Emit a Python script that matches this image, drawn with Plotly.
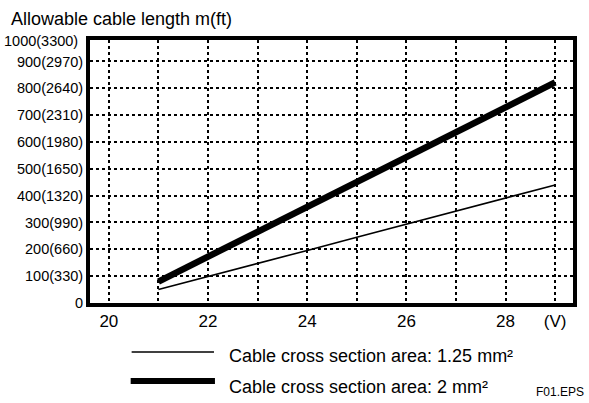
import plotly.graph_objects as go

# Supply voltage (V) and allowable cable length (m) for each cable cross section
voltage = [21, 22, 23, 24, 25, 26, 27, 28, 29]
length_125mm2 = [50, 98, 147, 196, 245, 294, 343, 391, 440]
length_2mm2 = [80, 172, 265, 358, 451, 545, 637, 730, 822]

x_ticks = [20, 22, 24, 26, 28, 29]
x_labels = ["20", "22", "24", "26", "28", "(V)"]
y_ticks = [0, 100, 200, 300, 400, 500, 600, 700, 800, 900]
y_labels = ["0", "100(330)", "200(660)", "300(990)", "400(1320)", "500(1650)",
            "600(1980)", "700(2310)", "800(2640)", "900(2970)"]
top_label = "1000(3300)"

legend_125 = "Cable cross section area: 1.25 mm²"
legend_2 = "Cable cross section area: 2 mm²"

FONT = "Liberation Sans, Arial, sans-serif"
GRID = dict(showgrid=True, gridcolor="black", gridwidth=2, griddash="dot")

fig = go.Figure()
fig.add_trace(go.Scatter(x=voltage, y=length_125mm2, mode="lines",
                         line=dict(color="black", width=1.6), showlegend=False))
fig.add_trace(go.Scatter(x=voltage, y=length_2mm2, mode="lines",
                         line=dict(color="black", width=6.5), showlegend=False))

fig.update_xaxes(range=[19.62, 29.36], tickvals=x_ticks, ticktext=x_labels,
                 minor=dict(tick0=20, dtick=1, ticks="", **GRID), **GRID,
                 showline=True, linecolor="black", linewidth=4, mirror=True,
                 zeroline=False, ticks="", tickfont=dict(size=17, color="black"))
fig.update_yaxes(range=[0, 980], tickvals=y_ticks, ticktext=y_labels, **GRID,
                 showline=True, linecolor="black", linewidth=4, mirror=True,
                 zeroline=False, ticks="", tickfont=dict(size=14.5, color="black"))

annotations = [
    dict(text="Allowable cable length m(ft)", x=-0.168, y=1.08, xanchor="left",
         yanchor="middle", font=dict(size=18)),
    dict(text=top_label, x=-0.0205, y=0.996, xanchor="right", yanchor="middle",
         font=dict(size=14.5)),
    dict(text=legend_125, x=0.2834, y=-0.2015, xanchor="left", yanchor="middle",
         font=dict(size=18)),
    dict(text=legend_2, x=0.2834, y=-0.3194, xanchor="left", yanchor="middle",
         font=dict(size=18)),
    dict(text="F01.EPS", x=0.92, y=-0.338, xanchor="left", yanchor="middle",
         font=dict(size=12)),
]
for a in annotations:
    a.update(xref="paper", yref="paper", showarrow=False)
    a["font"].update(family=FONT, color="black")

# Legend sample lines
shapes = [
    dict(type="line", xref="paper", yref="paper", x0=0.0862, x1=0.2567,
         y0=-0.1863, y1=-0.1863, line=dict(color="black", width=1.6)),
    dict(type="line", xref="paper", yref="paper", x0=0.0842, x1=0.2587,
         y0=-0.2966, y1=-0.2966, line=dict(color="black", width=6)),
]

fig.update_layout(width=589, height=403,
                  margin=dict(l=90, r=12, t=40, b=100),
                  paper_bgcolor="white", plot_bgcolor="white",
                  font=dict(family=FONT, color="black"),
                  annotations=annotations, shapes=shapes)

fig.write_html("out.html")
